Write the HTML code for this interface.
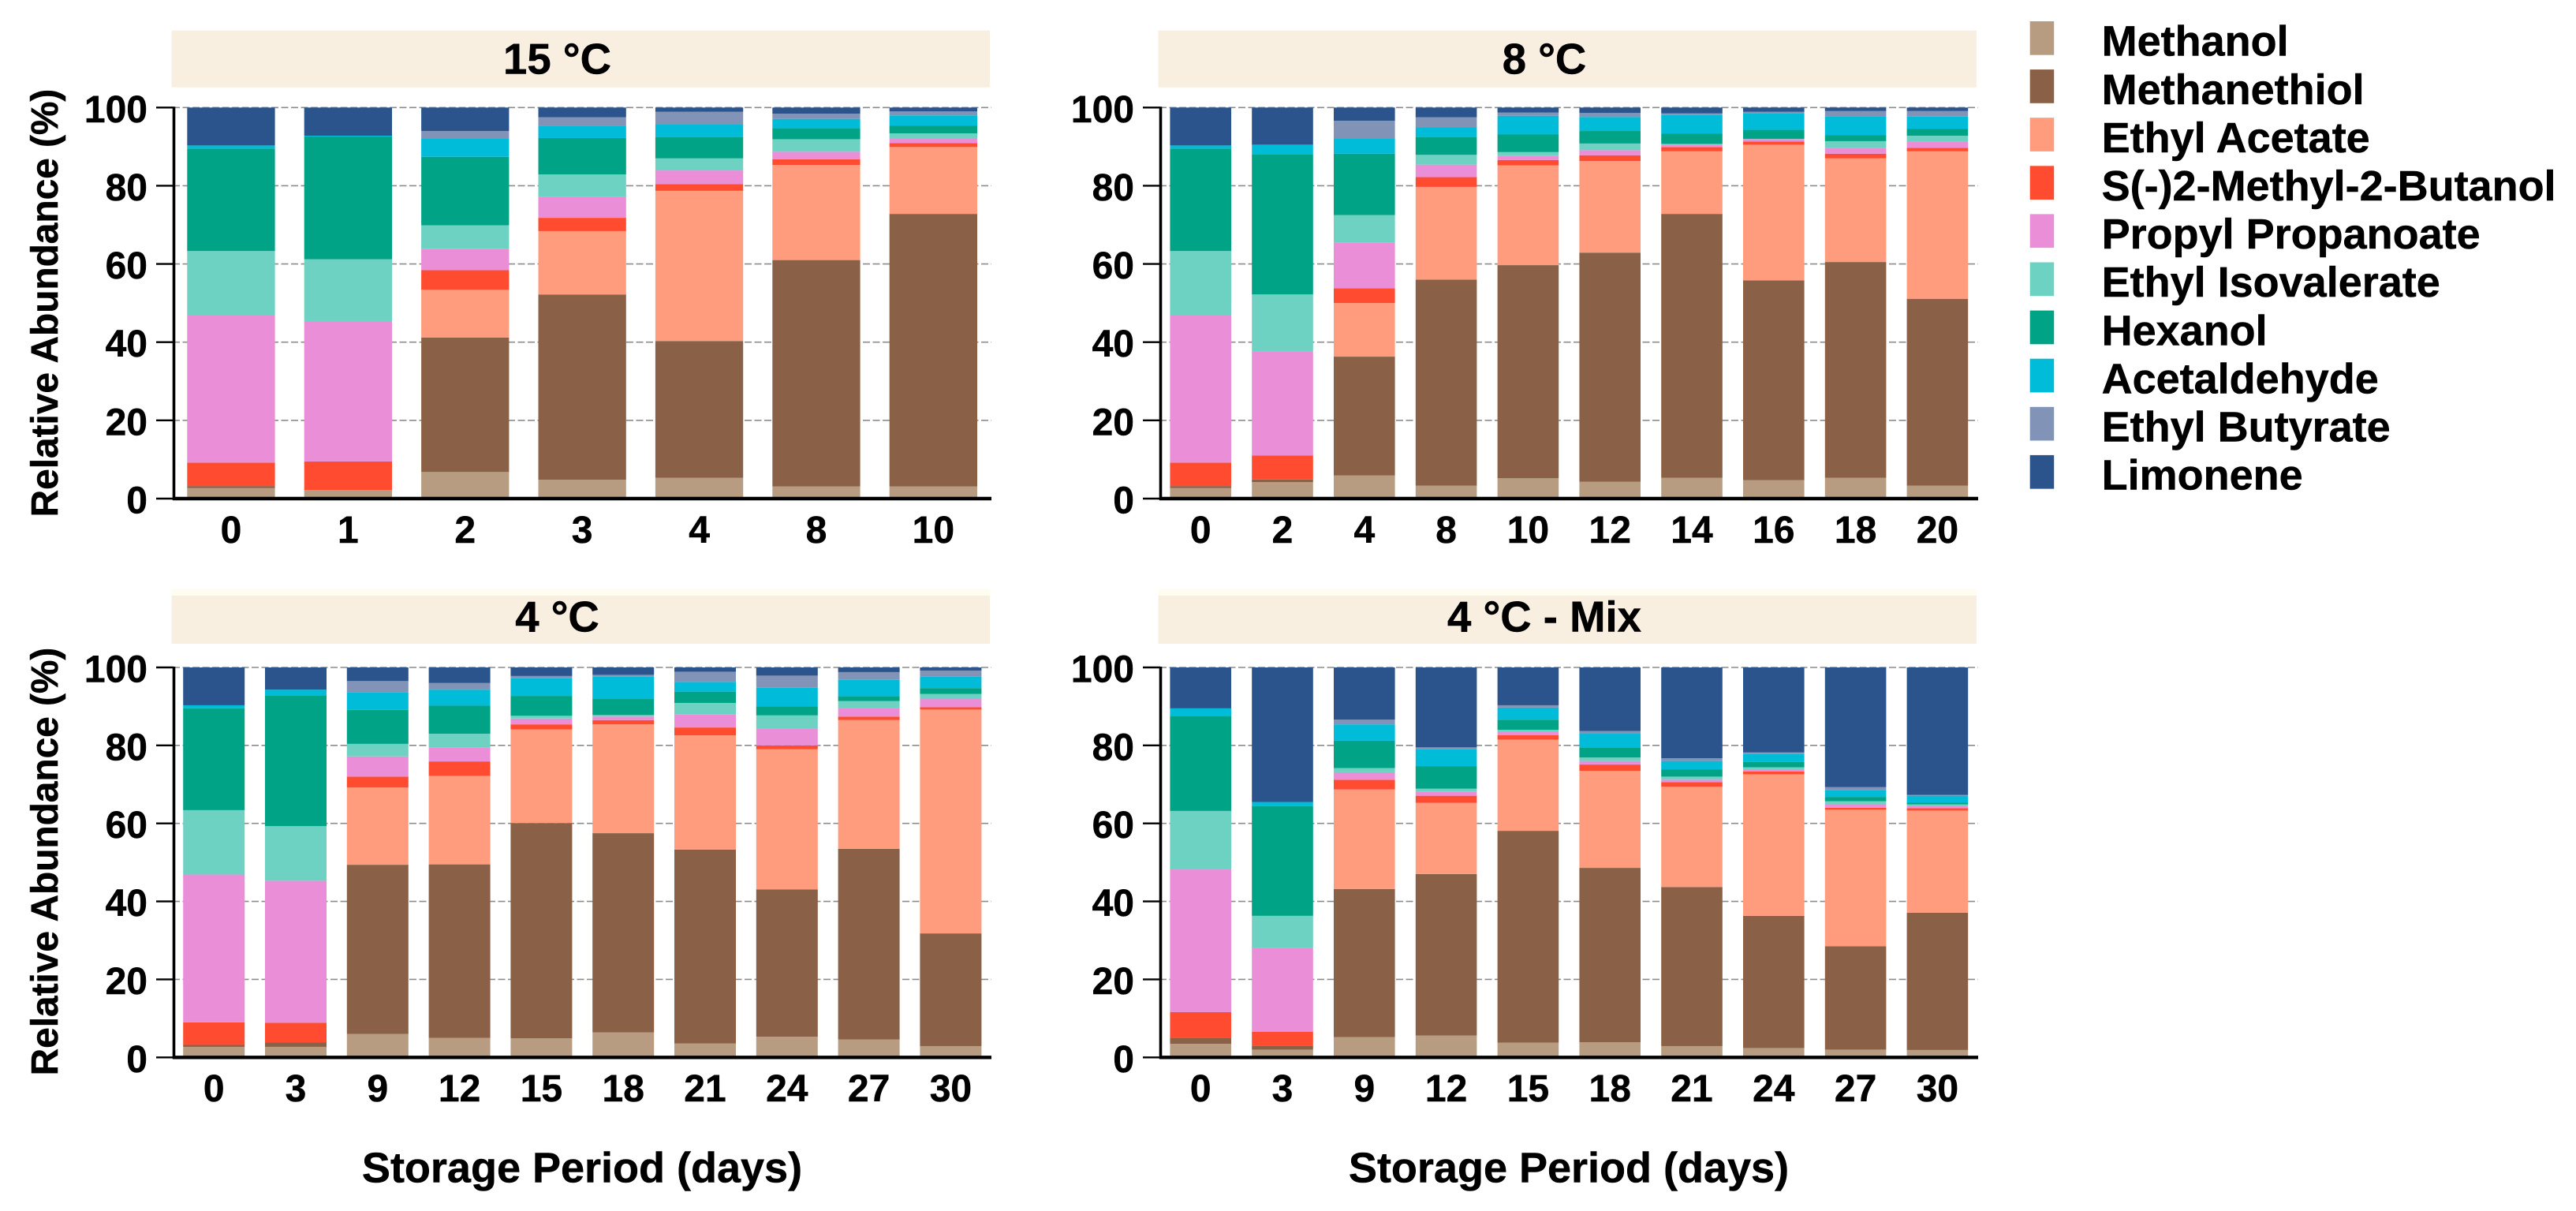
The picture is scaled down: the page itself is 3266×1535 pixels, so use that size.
<!DOCTYPE html>
<html lang="en">
<head>
<meta charset="utf-8">
<title>Relative abundance of volatiles during storage</title>
<style>
  html, body { margin: 0; padding: 0; background: #fff; }
  svg { display: block; }
  text { font-family: "Liberation Sans", Arial, sans-serif; font-weight: bold; fill: #000; stroke: #000; stroke-width: 0.5px; }
</style>
</head>
<body>
<svg id="chart" xmlns="http://www.w3.org/2000/svg" width="3266" height="1535" viewBox="0 0 3266 1535"></svg>
<script>
// ---- Data (percent, stacked from Methanol upward) ----
const seriesNames = ["Methanol", "Methanethiol", "Ethyl Acetate", "S(-)2-Methyl-2-Butanol", "Propyl Propanoate", "Ethyl Isovalerate", "Hexanol", "Acetaldehyde", "Ethyl Butyrate", "Limonene"];
const seriesColors = ["#b79c82", "#8a6146", "#ff9c7e", "#ff4c30", "#ea8ed8", "#6dd2c1", "#00a386", "#00bcd8", "#8293b8", "#2b548c"];
const yTicks = [0, 20, 40, 60, 80, 100];

const days15C = ["0", "1", "2", "3", "4", "8", "10"];
const values15C = [
  [2.7, 0.5, 0, 6.0, 37.7, 16.4, 26.2, 0.8, 0, 9.7],
  [2.2, 0, 0, 7.3, 35.9, 15.8, 31.4, 0.2, 0, 7.2],
  [6.8, 34.4, 12.2, 5.0, 5.4, 6.1, 17.5, 4.7, 1.9, 6.0],
  [4.8, 47.4, 16.2, 3.4, 5.3, 5.8, 9.3, 3.1, 2.2, 2.5],
  [5.3, 35.0, 38.4, 1.7, 3.5, 3.1, 5.4, 3.4, 3.1, 1.1],
  [3.1, 57.9, 24.3, 1.5, 1.9, 3.2, 2.8, 2.4, 1.3, 1.6],
  [3.1, 69.7, 17.1, 1.0, 1.3, 1.2, 2.0, 2.6, 1.0, 1.0]
];

const days8C = ["0", "2", "4", "8", "10", "12", "14", "16", "18", "20"];
const values8C = [
  [2.7, 0.5, 0, 6.0, 37.7, 16.4, 26.2, 0.8, 0, 9.7],
  [4.2, 0.7, 0, 6.1, 26.7, 14.5, 35.9, 2.4, 0, 9.5],
  [5.9, 30.4, 13.7, 3.8, 11.6, 7.1, 15.7, 3.9, 4.5, 3.4],
  [3.3, 52.7, 23.7, 2.5, 3.2, 2.5, 4.5, 2.6, 2.5, 2.5],
  [5.2, 54.5, 25.5, 1.4, 1.0, 1.0, 4.5, 4.8, 0.8, 1.3],
  [4.3, 58.6, 23.4, 1.5, 1.3, 1.7, 3.2, 3.6, 1.0, 1.4],
  [5.3, 67.5, 16.0, 1.1, 0.5, 0.3, 2.6, 4.8, 0.4, 1.5],
  [4.7, 51.1, 34.7, 0.8, 0.6, 0.1, 2.3, 4.3, 0.3, 1.1],
  [5.3, 55.2, 26.5, 1.2, 1.5, 1.7, 1.5, 4.9, 1.3, 0.9],
  [3.3, 47.8, 37.7, 0.9, 1.6, 1.5, 1.8, 3.1, 1.4, 0.9]
];

const days4C = ["0", "3", "9", "12", "15", "18", "21", "24", "27", "30"];
const values4C = [
  [2.7, 0.5, 0, 5.8, 37.9, 16.5, 26.1, 0.8, 0, 9.7],
  [2.7, 1.1, 0, 5.1, 36.4, 14.0, 33.5, 1.5, 0, 5.7],
  [6.0, 43.4, 19.8, 2.8, 5.2, 3.2, 8.7, 4.5, 2.9, 3.5],
  [5.0, 44.5, 22.7, 3.7, 3.5, 3.6, 7.2, 4.1, 1.7, 4.0],
  [4.9, 55.2, 24.0, 1.3, 1.5, 0.7, 5.1, 4.5, 0.6, 2.2],
  [6.4, 51.1, 27.9, 1.1, 0.9, 0.4, 4.1, 5.7, 0.5, 1.9],
  [3.6, 49.7, 29.3, 2.0, 3.3, 3.0, 2.9, 2.5, 2.6, 1.1],
  [5.3, 37.8, 35.9, 1.0, 4.4, 3.3, 2.3, 4.8, 3.1, 2.1],
  [4.6, 48.9, 33.0, 0.9, 2.2, 1.8, 1.2, 4.2, 2.0, 1.2],
  [2.9, 28.9, 57.4, 0.6, 2.1, 1.3, 1.5, 2.9, 1.6, 0.8]
];

const daysMix = ["0", "3", "9", "12", "15", "18", "21", "24", "27", "30"];
const valuesMix = [
  [3.5, 1.5, 0, 6.6, 36.6, 15.0, 24.4, 1.9, 0, 10.5],
  [2.0, 0.9, 0, 3.7, 21.4, 8.3, 28.1, 1.1, 0, 34.5],
  [5.2, 38.0, 25.5, 2.5, 1.9, 1.1, 7.0, 4.2, 1.2, 13.4],
  [5.6, 41.4, 18.3, 1.8, 1.1, 0.7, 5.8, 4.4, 0.4, 20.5],
  [3.8, 54.3, 23.4, 1.1, 0.9, 0.5, 2.6, 3.1, 0.6, 9.7],
  [3.9, 44.7, 24.9, 1.6, 0.9, 0.9, 2.6, 3.5, 0.7, 16.3],
  [2.9, 40.8, 25.7, 1.2, 0.6, 0.8, 1.8, 2.2, 0.7, 23.3],
  [2.4, 33.9, 36.3, 0.7, 0.6, 0.5, 1.4, 2.0, 0.4, 21.8],
  [2.0, 26.5, 35.0, 0.5, 0.8, 0.9, 1.1, 1.8, 0.7, 30.7],
  [1.9, 35.2, 26.2, 0.6, 0.6, 0.4, 0.4, 1.8, 0.2, 32.7]
];

// ---- Layout ----
const NS = "http://www.w3.org/2000/svg";
const svg = document.getElementById("chart");

function make(tag, attrs, parent, content) {
  const el = document.createElementNS(NS, tag);
  for (const k in attrs) el.setAttribute(k, attrs[k]);
  if (content !== undefined) el.textContent = content;
  parent.appendChild(el);
  return el;
}

function drawPanel(p) {
  const g = make("g", {}, svg);
  
  

  const yScale = v => p.y0 + (p.y100 - p.y0) * v / 100;
  const xBar = i => p.barStart + i * p.pitch;
  const xCenter = i => xBar(i) + p.barWidth / 2;

  // Header strip
  if (p.strip) {
    const strip = make("rect", { x: p.left - 1.5, y: p.headTop - 9, width: p.right - p.left + 1.5, height: 10, fill: "#fffdf0" }, g);
    
    
  }
  const head = make("rect", { x: p.left - 1.5, y: p.headTop, width: p.right - p.left + 1.5, height: p.headBottom - p.headTop, fill: "#f8efe0" }, g);
  
  
  const title = make("text", { x: p.titleX, y: p.titleY, "text-anchor": "middle", "font-size": 54.5 }, g, p.title);
  
  

  // Gridlines
  yTicks.forEach(t => {
    if (t === 0) return;
    const line = make("line", { x1: p.left, x2: p.right + 2, y1: yScale(t), y2: yScale(t), stroke: "#8c8c8c", "stroke-width": 1.6, "stroke-dasharray": "9 3.5" }, g);
    
    
  });

  // Bars
  p.values.forEach((row, i) => {
    let base = 0;
    row.forEach((v, s) => {
      const top = base + v;
      const r = make("rect", { x: xBar(i), y: yScale(top), width: p.barWidth, height: yScale(base) - yScale(top), fill: seriesColors[s] }, g);
      
      
      base = top;
    });
  });

  // Axes
  const yAxis = make("line", { x1: p.left + 1.5, x2: p.left + 1.5, y1: yScale(100) - 1, y2: yScale(0) + 2, stroke: "#000", "stroke-width": 3.6 }, g);
  
  
  const xAxis = make("line", { x1: p.left, x2: p.right + 2, y1: yScale(0), y2: yScale(0), stroke: "#000", "stroke-width": 4.4 }, g);
  
  

  // Y ticks
  yTicks.forEach(t => {
    const tick = make("line", { x1: p.left - 21, x2: p.left + 1, y1: yScale(t), y2: yScale(t), stroke: "#000", "stroke-width": 2.4 }, g);
    
    
    const lab = make("text", { x: p.left - 32, y: yScale(t) + 18.5, "text-anchor": "end", "font-size": 48 }, g, String(t));
    
    
  });

  // X labels
  p.days.forEach((d, i) => {
    const lab = make("text", { x: xCenter(i), y: yScale(0) + 55.8, "text-anchor": "middle", "font-size": 48 }, g, d);
    
    
  });

  // Axis titles
  if (p.yTitleY) {
    const yt = make("text", { transform: "translate(73 " + p.yTitleY + ") rotate(-90)", "text-anchor": "middle", "font-size": 47.8 }, g, "Relative Abundance (%)");
    
    
  }
  if (p.xTitleX) {
    const xt = make("text", { x: p.xTitleX, y: 1498.3, "text-anchor": "middle", "font-size": 54 }, g, "Storage Period (days)");
    
    
  }
}

drawPanel({ key: "15c", title: "15 °C", days: days15C, values: values15C, left: 219, right: 1255, headTop: 38.7, headBottom: 110.7, titleX: 706.5, titleY: 93.3, y100: 136.3, y0: 632, barStart: 237.3, pitch: 148.4, barWidth: 111.3, yTitleY: 384 });
drawPanel({ key: "8c", title: "8 °C", days: days8C, values: values8C, left: 1470, right: 2506, headTop: 38.7, headBottom: 110.7, titleX: 1958, titleY: 93.3, y100: 136.3, y0: 632, barStart: 1483.4, pitch: 103.8, barWidth: 77.6 });
drawPanel({ key: "4c", title: "4 °C", days: days4C, values: values4C, left: 219, right: 1255, headTop: 755, headBottom: 816, strip: true, titleX: 706.5, titleY: 800.6, y100: 846, y0: 1340.3, barStart: 232.2, pitch: 103.8, barWidth: 78, yTitleY: 1092, xTitleX: 738 });
drawPanel({ key: "4c-mix", title: "4 °C - Mix", days: daysMix, values: valuesMix, left: 1470, right: 2506, headTop: 755, headBottom: 816, strip: true, titleX: 1958, titleY: 800.6, y100: 846, y0: 1340.3, barStart: 1483.4, pitch: 103.8, barWidth: 77.6, xTitleX: 1989 });

// ---- Legend ----
const legend = make("g", {}, svg);


seriesNames.forEach((name, i) => {
  const slug = name.toLowerCase().replace(/[^a-z0-9]+/g, '-');
  const sw = make("rect", { x: 2573.7, y: 27 + i * 61.1, width: 30.5, height: 42.7, fill: seriesColors[i] }, legend);
  
  
  const label = make("text", { x: 2664.6, y: 70.7 + i * 61.1, "font-size": 54 }, legend, name);
  
  
});
</script>
</body>
</html>
